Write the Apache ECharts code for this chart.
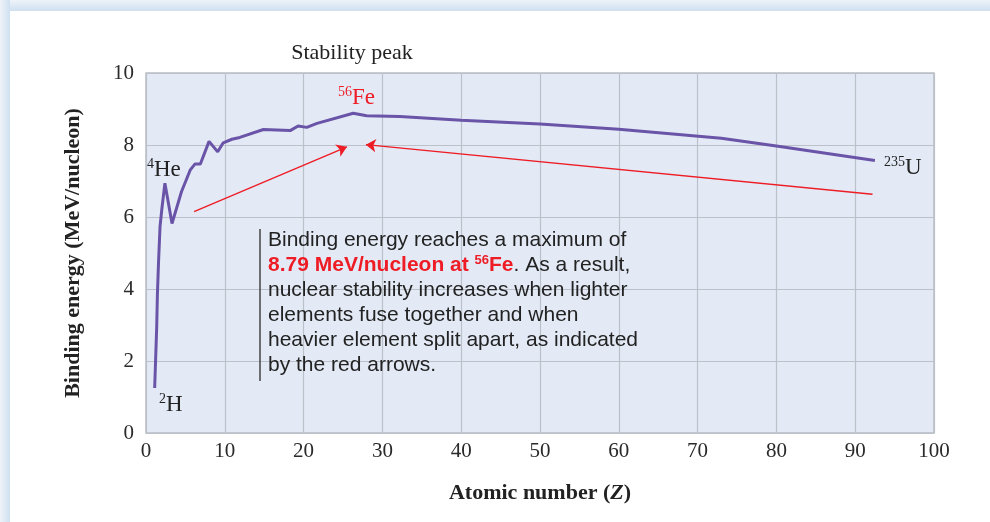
<!DOCTYPE html>
<html><head><meta charset="utf-8">
<script src="https://cdn.jsdelivr.net/npm/echarts@6/dist/echarts.min.js"></script>
<style>html,body{margin:0;padding:0;background:#fff}#c{width:990px;height:522px}</style>
</head><body><div id="c"></div>
<script>
const atomicNumber = [1.1, 1.36, 1.45, 1.6, 1.78, 2.0, 2.4, 3.3, 4.5, 5.6, 6.2, 6.9, 8.0, 9.1, 9.8, 10.9, 11.9, 14.9, 18.3, 19.3, 20.4, 21.7, 26.3, 28.0, 32.2, 40, 50, 60, 73, 80, 92.5];
const bindingEnergy = [1.25, 2.95, 3.87, 4.8, 5.73, 6.2, 6.94, 5.82, 6.7, 7.3, 7.47, 7.47, 8.1, 7.81, 8.06, 8.16, 8.21, 8.43, 8.40, 8.53, 8.49, 8.6, 8.88, 8.81, 8.79, 8.69, 8.58, 8.44, 8.19, 7.97, 7.57];
const fusionArrow = [[6.1, 6.15], [25.5, 7.95]];
const fissionArrow = [[92.2, 6.63], [27.9, 8.01]];
const xTicks = {min: 0, max: 100, interval: 10};
const yTicks = {min: 0, max: 10, interval: 2};

const serif = '"Liberation Serif", "DejaVu Serif", serif';
const sans = '"Liberation Sans", Arial, sans-serif';
const chart = echarts.init(document.getElementById('c'));
chart.setOption({
  animation: false,
  backgroundColor: '#ffffff',
  grid: {left: 146, right: 56, top: 73, bottom: 89, show: true, backgroundColor: '#e3eaf6', borderColor: '#b8bdc5', borderWidth: 1.5},
  xAxis: {
    type: 'value', min: xTicks.min, max: xTicks.max, interval: xTicks.interval,
    axisLine: {show: false}, axisTick: {show: false},
    splitLine: {lineStyle: {color: '#bcc1c9', width: 1.2}},
    axisLabel: {fontFamily: serif, fontSize: 21, color: '#2a2a2a', margin: 8},
    name: 'Atomic number ({i|Z})', nameLocation: 'middle', nameGap: 49,
    nameTextStyle: {fontFamily: serif, fontSize: 22, fontWeight: 'bold', color: '#222',
      rich: {i: {fontFamily: serif, fontSize: 22, fontWeight: 'bold', fontStyle: 'italic', color: '#222'}}}
  },
  yAxis: {
    type: 'value', min: yTicks.min, max: yTicks.max, interval: yTicks.interval,
    axisLine: {show: false}, axisTick: {show: false},
    splitLine: {lineStyle: {color: '#bcc1c9', width: 1.2}},
    axisLabel: {fontFamily: serif, fontSize: 21, color: '#2a2a2a', margin: 12},
    name: 'Binding energy (MeV/nucleon)', nameLocation: 'middle', nameGap: 62, nameRotate: 90,
    nameTextStyle: {fontFamily: serif, fontSize: 22, fontWeight: 'bold', color: '#222'}
  },
  series: [
    {type: 'line', data: atomicNumber.map((z, i) => [z, bindingEnergy[i]]), showSymbol: false, symbol: 'none',
     lineStyle: {color: '#6a54a8', width: 3}, z: 3},
    {type: 'lines', coordinateSystem: 'cartesian2d', symbol: ['none', 'arrow'], symbolSize: 10,
     lineStyle: {color: '#ee1c25', width: 1.4, opacity: 1},
     data: [{coords: fusionArrow}, {coords: fissionArrow}], z: 4}
  ],
  graphic: [
    {type: 'rect', shape: {x: 0, y: 0, width: 990, height: 11}, style: {fill: new echarts.graphic.LinearGradient(0, 0, 0, 1, [{offset: 0, color: '#eef3f9'}, {offset: 1, color: '#cfe0f1'}])}},
    {type: 'rect', shape: {x: 0, y: 0, width: 10, height: 522}, style: {fill: new echarts.graphic.LinearGradient(0, 0, 1, 0, [{offset: 0, color: '#eef3f9'}, {offset: 1, color: '#cfe0f1'}])}},
    {type: 'text', x: 352, y: 53, style: {text: 'Stability peak', font: '22px ' + serif, fill: '#222', align: 'center', verticalAlign: 'middle'}},
    {type: 'text', x: 338, y: 98, z: 10, style: {text: '{s|56}{b|Fe}', verticalAlign: 'middle', rich: {s: {font: '14px ' + serif, fill: '#ee1c25', padding: [0, 0, 11, 0]}, b: {font: '23px ' + serif, fill: '#ee1c25'}}}},
    {type: 'text', x: 147, y: 170, z: 10, style: {text: '{s|4}{b|He}', verticalAlign: 'middle', rich: {s: {font: '14px ' + serif, fill: '#222', padding: [0, 0, 11, 0]}, b: {font: '23px ' + serif, fill: '#222'}}}},
    {type: 'text', x: 159, y: 405, z: 10, style: {text: '{s|2}{b|H}', verticalAlign: 'middle', rich: {s: {font: '14px ' + serif, fill: '#222', padding: [0, 0, 11, 0]}, b: {font: '23px ' + serif, fill: '#222'}}}},
    {type: 'text', x: 884, y: 168, z: 10, style: {text: '{s|235}{b|U}', verticalAlign: 'middle', rich: {s: {font: '14px ' + serif, fill: '#222', padding: [0, 0, 11, 0]}, b: {font: '23px ' + serif, fill: '#222'}}}},
    {type: 'line', shape: {x1: 260, y1: 229, x2: 260, y2: 381}, style: {stroke: '#444', lineWidth: 1.5}, z: 10},
    {type: 'text', x: 268, y: 228, z: 10, style: {
      text: '{n|Binding energy reaches a maximum of}\n{r|8.79 MeV/nucleon at }{rs|56}{r|Fe}{n|. As a result,}\n{n|nuclear stability increases when lighter}\n{n|elements fuse together and when}\n{n|heavier element split apart, as indicated}\n{n|by the red arrows.}',
      rich: {
        n: {font: '21px ' + sans, fill: '#222', lineHeight: 25},
        r: {font: 'bold 21px ' + sans, fill: '#ee1c25', lineHeight: 25},
        rs: {font: 'bold 13px ' + sans, fill: '#ee1c25', lineHeight: 25, padding: [0, 0, 11, 0]}
      }}}
  ]
});
</script></body></html>
